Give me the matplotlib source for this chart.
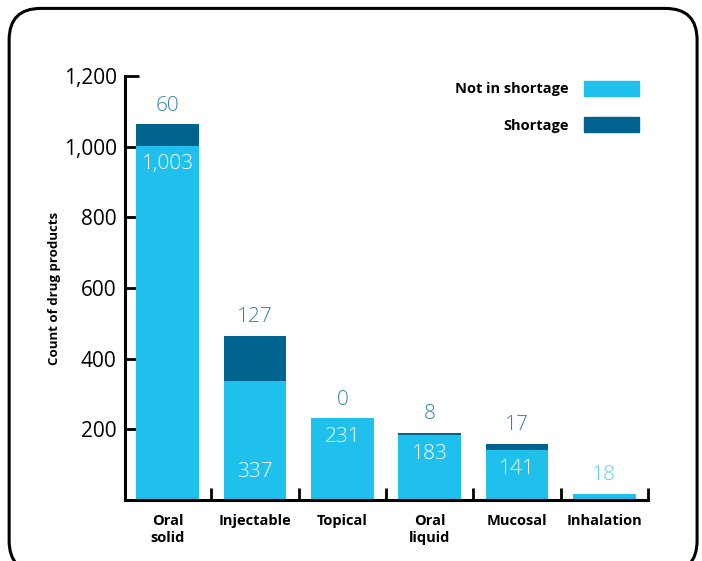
import matplotlib.pyplot as plt
from matplotlib.patches import FancyBboxPatch, Patch

categories = ['Oral\nsolid', 'Injectable', 'Topical', 'Oral\nliquid', 'Mucosal', 'Inhalation']
not_in_shortage = [1003, 337, 231, 183, 141, 18]
shortage = [60, 127, 0, 8, 17, 0]
yticks = [200, 400, 600, 800, 1000, 1200]
ytick_labels = ['200', '400', '600', '800', '1,000', '1,200']

light = '#1fc0ec'
dark = '#00628f'
num_col = '#2f84ad'

plt.rcParams['font.family'] = ['Open Sans', 'DejaVu Sans']

fig = plt.figure(figsize=(7.02, 5.61), dpi=100)
ax = fig.add_axes([0.178, 0.1087, 0.745, 0.7558])

# rounded frame around the whole chart
frame = FancyBboxPatch((0.013, -0.02), 0.98, 1.005, boxstyle='round,pad=0,rounding_size=0.045',
                       transform=fig.transFigure, fill=False, lw=2.2, ec='black',
                       mutation_aspect=702 / 561)
fig.patches.append(frame)

x = list(range(len(categories)))
w = 0.72
ax.bar(x, not_in_shortage, w, color=light, zorder=2)
ax.bar(x, shortage, w, bottom=not_in_shortage, color=dark, zorder=2)

for i in x:
    top = not_in_shortage[i] + shortage[i]
    if i == len(x) - 1:
        # only one segment: value printed above in light blue
        ax.text(i, top + 25, f'{not_in_shortage[i]:,}', ha='center', va='bottom',
                fontsize=15, color='#5dd0f2', fontweight='light')
        continue
    ax.text(i, top + 25, f'{shortage[i]:,}', ha='center', va='bottom',
            fontsize=15, color=num_col, fontweight='light')
    inner_y = 79 if i == 1 else not_in_shortage[i] - 52
    ax.text(i, inner_y, f'{not_in_shortage[i]:,}', ha='center', va='center',
            fontsize=15, color='white', fontweight='light')

ax.set_xlim(-0.49, 5.5)
ax.set_ylim(0, 1200)
ax.set_yticks(yticks)
ax.set_yticklabels(ytick_labels, fontsize=15)
ax.set_xticks(x)
ax.set_xticklabels(categories, fontsize=10.5, fontweight='bold', va='top', linespacing=1.3)
ax.set_xticks([i + 0.5 for i in x], minor=True)
ax.tick_params(axis='x', which='major', length=0, pad=10)
ax.tick_params(axis='x', which='minor', direction='in', length=9, width=2)
ax.tick_params(axis='y', direction='in', length=10, width=2, pad=6)

for s in ['top', 'right']:
    ax.spines[s].set_visible(False)
for s in ['left', 'bottom']:
    ax.spines[s].set_linewidth(2.2)

ax.set_ylabel('Count of drug products', fontsize=9.5, fontweight='bold', labelpad=2)

ax.legend(handles=[Patch(color=light, label='Not in shortage'), Patch(color=dark, label='Shortage')],
          loc='upper right', bbox_to_anchor=(1.008, 1.019), frameon=False, markerfirst=False,
          handlelength=3.8, handleheight=1.15, handletextpad=1.0, labelspacing=1.45,
          prop={'size': 10.5, 'weight': 'bold'})

fig.savefig('out.png', dpi=100)
